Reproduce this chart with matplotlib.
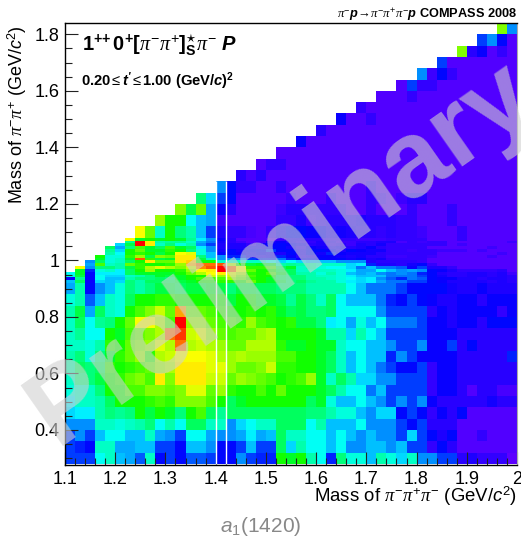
import numpy as np
import matplotlib
matplotlib.use('Agg')
import matplotlib.pyplot as plt
from matplotlib.colors import LinearSegmentedColormap
from matplotlib.ticker import MultipleLocator

plt.rcParams['font.family'] = 'Liberation Sans'
plt.rcParams['mathtext.fontset'] = 'custom'
plt.rcParams['mathtext.rm'] = 'Liberation Sans'
plt.rcParams['mathtext.it'] = 'Liberation Serif:italic'
plt.rcParams['mathtext.sf'] = 'Liberation Sans:italic'
plt.rcParams['mathtext.bf'] = 'Liberation Sans:bold'
plt.rcParams['mathtext.bfit'] = 'Liberation Sans:italic:bold'

# 0 means empty bin (white), the rest is the colour level
# coarse rows 0.28 - 0.92, bottom row first
low_rows = [
    [25,25,25,40,45,35,33,27,45,20,25,20,27,27,24,20,20,30,24,22,22,60,58,60,47,40,23,50,43,42,35,47,42,36,44,30,30,25,25,12,14,10,10,10,3],
    [25,22,20,45,45,32,32,34,34,25,24,20,34,34,30,20,20,25,35,24,24,52,36,46,41,41,35,41,30,30,35,35,30,34,24,24,10,20,12,4,4,4,4,4,4],
    [25,30,25,35,40,40,35,35,44,33,30,25,40,40,32,30,30,32,38,33,35,52,45,44,41,41,35,41,35,30,35,30,30,24,36,24,20,14,20,4,4,10,4,4,4],
    [30,30,30,44,44,42,44,46,50,40,46,40,52,52,44,45,30,36,40,45,45,52,52,52,40,46,35,35,35,41,30,30,30,24,20,24,12,12,12,4,4,4,4,4,4],
    [36,38,38,46,50,48,50,60,55,60,56,50,60,65,52,48,52,52,52,52,52,52,52,52,50,50,46,42,42,35,30,36,36,20,24,20,10,18,12,20,4,4,4,4,4],
    [38,44,44,46,52,60,60,60,62,65,62,68,68,68,65,60,52,56,60,60,60,60,60,60,52,56,42,35,35,41,34,30,24,30,24,30,18,12,12,12,12,12,16,12,12],
    [42,45,44,50,60,60,65,65,68,68,66,68,76,76,66,70,62,60,60,64,60,66,60,60,60,56,52,46,41,41,28,35,24,24,24,24,10,18,18,12,5,12,12,6,6],
    [44,50,50,55,60,62,66,68,64,80,68,80,80,80,74,74,66,70,68,66,64,60,62,65,70,56,45,52,46,36,36,30,30,24,24,24,10,18,18,12,12,12,12,12,12],
    [46,52,50,52,62,60,62,64,66,70,72,80,80,80,76,76,70,66,66,68,74,62,62,60,60,56,52,45,35,40,34,29,24,20,20,24,10,18,18,12,12,12,12,12,12],
    [46,50,42,50,58,62,66,70,62,72,74,78,78,78,76,72,70,72,70,70,70,64,64,60,60,56,52,44,35,40,34,34,22,30,25,18,18,18,18,12,12,12,12,12,22],
    [45,44,42,46,62,60,66,68,70,76,72,90,72,74,72,70,66,66,72,72,72,62,56,56,60,56,56,45,40,40,34,34,30,25,25,30,18,18,25,12,20,12,12,12,12],
    [44,48,40,40,60,56,64,66,68,72,90,95,74,76,70,66,64,66,66,70,72,60,60,60,60,56,46,46,36,46,40,34,24,24,24,24,18,18,18,12,12,12,12,12,12],
    [44,52,40,48,50,60,66,78,78,72,64,98,70,70,66,64,64,62,70,64,62,60,62,55,55,50,38,40,33,42,34,40,28,28,28,25,18,18,14,18,18,12,20,20,20],
    [46,55,32,52,45,42,60,64,68,74,66,86,66,66,64,62,60,60,62,60,62,58,52,55,50,50,52,40,40,40,40,30,24,24,24,24,12,18,14,18,18,18,18,10,18],
    [42,46,26,35,44,42,52,60,60,62,62,60,60,60,60,60,55,60,60,58,56,54,48,55,50,44,52,41,34,34,34,28,22,20,24,20,18,14,14,18,18,12,18,18,18],
    [33,46,20,30,34,42,50,46,50,55,55,52,55,55,58,55,50,55,55,52,52,50,50,50,46,46,46,46,41,34,28,28,28,25,20,20,20,20,16,14,14,18,14,14,14],
]

# fine rows 0.92 - 1.08 around the f0(980)
fine_rows = [
    [34,52,18,36,34,36,50,46,52,52,52,54,56,60,60,62,62,60,66,60,58,54,50,52,48,46,46,42,38,36,38,32,28,28,24,24,20,18,14,14,14,14,12,14,12],
    [18,48,20,40,34,34,46,50,50,52,50,58,60,64,64,64,70,66,62,60,56,52,50,50,46,46,44,42,40,36,38,30,26,22,28,26,20,18,18,14,14,12,14,14,12],
    [42,55,20,40,36,36,45,46,50,56,55,56,60,60,74,70,74,68,64,60,60,52,50,50,46,44,44,42,38,34,34,34,28,28,28,24,20,16,12,12,14,14,12,14,12],
    [40,56,20,38,38,38,52,58,58,58,58,60,66,72,78,80,76,72,62,60,64,56,52,46,46,42,46,42,34,32,34,30,28,30,28,22,20,14,12,12,14,14,12,14,8],
    [0,58,22,42,44,38,52,60,70,60,60,62,70,78,80,100,90,78,66,60,60,54,52,44,44,44,44,42,38,32,32,40,34,30,32,30,20,18,14,10,10,10,10,12,4],
    [0,78,30,50,50,46,54,62,72,76,72,68,74,88,92,100,90,78,62,62,64,52,56,44,46,42,40,40,36,28,34,28,28,26,18,24,14,14,10,4,4,4,4,4,4],
    [0,0,32,64,44,46,66,62,60,60,62,70,84,90,90,92,72,60,55,56,56,46,48,46,46,44,44,44,36,38,22,14,14,12,16,20,10,4,4,4,4,4,4,4,4],
    [0,0,30,52,42,44,52,60,80,66,66,80,82,60,60,44,45,44,44,44,40,36,40,36,34,34,34,30,30,30,14,12,12,12,12,10,4,4,4,4,4,4,4,4,4],
    [0,0,0,58,42,44,58,92,62,54,58,80,80,55,45,30,30,30,24,22,22,28,22,18,20,20,18,20,16,20,14,16,10,10,10,10,4,4,4,4,4,4,4,4,4],
    [0,0,0,60,42,42,62,70,54,68,66,80,80,50,34,30,22,22,16,14,16,22,18,12,14,18,18,16,14,16,12,12,8,8,10,10,8,4,4,4,4,4,8,4,4],
    [0,0,0,0,46,40,60,62,60,54,60,78,76,42,34,20,20,18,16,18,16,14,20,14,20,16,22,18,16,16,16,12,10,10,10,10,10,4,4,4,4,4,4,8,4],
    [0,0,0,0,48,36,60,66,58,56,62,60,50,42,30,16,20,16,18,20,24,20,20,14,20,20,18,14,20,18,16,16,10,10,8,10,10,8,8,8,4,8,4,4,4],
    [0,0,0,0,52,33,50,65,58,52,64,56,52,38,30,14,14,14,16,16,20,20,16,12,18,16,14,16,12,14,18,12,10,10,10,10,4,4,4,4,4,4,8,4,4],
    [0,0,0,0,0,36,55,98,80,44,50,42,46,30,24,14,14,14,10,16,18,20,18,16,12,14,10,12,8,14,12,16,10,10,10,10,10,10,4,8,4,4,4,4,4],
    [0,0,0,0,0,0,48,98,80,46,48,48,44,32,28,16,12,8,4,6,16,18,14,12,10,14,12,8,8,12,12,14,14,6,10,8,10,10,4,4,4,4,4,4,8],
    [0,0,0,0,0,0,78,58,60,58,60,56,48,38,30,18,12,4,4,4,4,8,14,14,12,12,10,10,10,8,8,8,10,10,10,10,4,4,4,10,4,4,4,4,4],
]

# coarse rows 1.08 - 1.84
high_rows = [
    [0,0,0,0,0,0,0,78,66,44,60,50,47,35,25,15,10,10,6,4,10,16,20,20,18,18,14,16,14,12,12,10,12,10,10,8,4,4,4,10,4,4,4,4,4],
    [0,0,0,0,0,0,0,0,0,70,60,60,40,35,32,8,4,4,4,4,4,10,10,14,8,10,12,12,12,14,12,12,12,10,10,4,4,4,10,4,4,4,4,4,4],
    [0,0,0,0,0,0,0,0,0,0,0,68,55,66,33,18,12,4,4,4,4,8,12,12,10,10,10,10,4,4,10,4,4,4,10,4,4,4,10,4,4,4,4,4,4],
    [0,0,0,0,0,0,0,0,0,0,0,0,0,50,37,24,20,4,4,4,4,4,8,4,4,4,10,4,4,4,10,8,4,8,12,12,4,4,4,4,4,4,4,4,4],
    [0,0,0,0,0,0,0,0,0,0,0,0,0,0,0,30,20,10,10,4,4,10,4,4,4,4,4,4,4,4,10,4,4,4,4,4,4,4,4,4,4,4,4,4,4],
    [0,0,0,0,0,0,0,0,0,0,0,0,0,0,0,0,0,12,6,12,4,4,4,4,4,4,4,4,4,4,4,4,4,4,4,4,4,4,4,4,4,4,4,4,4],
    [0,0,0,0,0,0,0,0,0,0,0,0,0,0,0,0,0,0,0,5,10,10,4,4,4,4,4,4,4,4,4,4,4,4,4,4,4,4,4,4,4,4,4,4,4],
    [0,0,0,0,0,0,0,0,0,0,0,0,0,0,0,0,0,0,0,0,0,4,4,4,4,4,4,4,4,4,4,4,4,4,4,4,4,4,4,4,4,4,4,4,4],
    [0,0,0,0,0,0,0,0,0,0,0,0,0,0,0,0,0,0,0,0,0,0,0,18,4,4,4,4,4,4,4,4,4,4,4,4,4,4,4,4,4,4,4,4,4],
    [0,0,0,0,0,0,0,0,0,0,0,0,0,0,0,0,0,0,0,0,0,0,0,0,0,12,4,4,4,4,4,4,4,4,4,4,4,4,4,4,4,4,4,4,4],
    [0,0,0,0,0,0,0,0,0,0,0,0,0,0,0,0,0,0,0,0,0,0,0,0,0,0,0,18,4,4,10,4,4,4,4,4,4,4,4,4,4,4,4,4,4],
    [0,0,0,0,0,0,0,0,0,0,0,0,0,0,0,0,0,0,0,0,0,0,0,0,0,0,0,0,0,10,4,4,4,4,4,4,4,4,4,4,4,4,4,4,4],
    [0,0,0,0,0,0,0,0,0,0,0,0,0,0,0,0,0,0,0,0,0,0,0,0,0,0,0,0,0,0,0,4,4,4,10,4,4,4,4,4,4,4,4,4,4],
    [0,0,0,0,0,0,0,0,0,0,0,0,0,0,0,0,0,0,0,0,0,0,0,0,0,0,0,0,0,0,0,0,0,4,24,10,10,4,4,4,4,4,4,4,4],
    [0,0,0,0,0,0,0,0,0,0,0,0,0,0,0,0,0,0,0,0,0,0,0,0,0,0,0,0,0,0,0,0,0,0,0,30,8,20,10,4,4,4,4,4,4],
    [0,0,0,0,0,0,0,0,0,0,0,0,0,0,0,0,0,0,0,0,0,0,0,0,0,0,0,0,0,0,0,0,0,0,0,0,0,24,4,4,4,4,4,4,4],
    [0,0,0,0,0,0,0,0,0,0,0,0,0,0,0,0,0,0,0,0,0,0,0,0,0,0,0,0,0,0,0,0,0,0,0,0,0,0,0,68,12,18,4,10,4],
    [0,0,0,0,0,0,0,0,0,0,0,0,0,0,0,0,0,0,0,0,0,0,0,0,0,0,0,0,0,0,0,0,0,0,0,0,0,0,0,0,0,25,30,20,4],
    [0,0,0,0,0,0,0,0,0,0,0,0,0,0,0,0,0,0,0,0,0,0,0,0,0,0,0,0,0,0,0,0,0,0,0,0,0,0,0,0,0,0,0,68,30],
]

# ROOT style rainbow palette
rainbow = ['#6600ff', '#0000ff', '#0088ff', '#00ffff', '#00ff88', '#00ff00', '#88ff00', '#ffff00', '#ff8800', '#ff0000']
levels = [0, 20, 30, 40, 50, 60, 70, 80, 90, 100]
cmap = LinearSegmentedColormap.from_list('root_rainbow', [(l / 100, c) for l, c in zip(levels, rainbow)], N=50)

x_edges = np.linspace(1.1, 2.0, 46)
y_edges = np.concatenate([np.linspace(0.28, 0.92, 17), np.linspace(0.92, 1.08, 17)[1:], np.linspace(1.08, 1.84, 20)[1:]])
z = np.ma.masked_equal(np.array(low_rows + fine_rows + high_rows), 0)

fig = plt.figure(figsize=(5.21, 5.38), dpi=100)
ax = fig.add_axes([65 / 521, 1 - 465 / 538, 452 / 521, 442 / 538])
ax.pcolormesh(x_edges, y_edges, z, cmap=cmap, vmin=0, vmax=100)

# thin white gaps around the 1.40-1.42 column
ax.vlines([1.40, 1.42], 0.28, 1.28, color='white', lw=1)

ax.set_xlim(1.1, 2.0)
ax.set_ylim(0.276, 1.84)
ax.xaxis.set_minor_locator(MultipleLocator(0.02))
ax.yaxis.set_minor_locator(MultipleLocator(0.05))
ax.set_yticks([0.4, 0.6, 0.8, 1.0, 1.2, 1.4, 1.6, 1.8])
ax.set_yticklabels(['0.4', '0.6', '0.8', '1', '1.2', '1.4', '1.6', '1.8'])
ax.set_xticks([1.1, 1.2, 1.3, 1.4, 1.5, 1.6, 1.7, 1.8, 1.9, 2.0])
ax.set_xticklabels(['1.1', '1.2', '1.3', '1.4', '1.5', '1.6', '1.7', '1.8', '1.9', '2'])
ax.tick_params(which='major', direction='in', length=9.5, width=0.8, labelsize=13, pad=4, color='#222222')
ax.tick_params(which='minor', direction='in', length=5, width=0.8, color='#222222')
ax.spines['right'].set_color('#aaaaaa')
for s in ['left', 'bottom', 'top']:
    ax.spines[s].set_linewidth(1)

fig.text(17 / 521, 1 - 25 / 538, r'Mass of $\pi^{-}\pi^{+}$ (GeV/$\mathsf{c}^{2}$)', rotation=90, fontsize=13, ha='center', va='top')
fig.text(517 / 521, 1 - 502 / 538, r'Mass of $\pi^{-}\pi^{+}\pi^{-}$ (GeV/$\mathsf{c}^{2}$)', fontsize=13.4, ha='right', va='baseline')
fig.text(261 / 521, 1 - 527 / 538, r'$\mathsf{a}_{1}$(1420)', fontsize=15, color='#888888', ha='center', va='center')

fig.text(82 / 521, 1 - 51 / 538, r'$\mathbf{1^{+\!+}0^{+}[}\pi^{-}\pi^{+}\mathbf{]}^{\star}_{\mathbf{S}}\pi^{-}$ $\mathbfit{P}$', fontsize=14.5, ha='left', va='baseline', fontweight='bold')
fig.text(81 / 521, 1 - 86 / 538, r"0.20$\leq$$\mathbfit{t'}$$\leq$1.00 (GeV/$\mathbfit{c}$)$^{\mathbf{2}}$", fontsize=10.6, ha='left', va='baseline', fontweight='bold')
fig.text(517 / 521, 1 - 18 / 538, r'$\pi^{-}\mathbfit{p}\!\rightarrow\!\pi^{-}\pi^{+}\pi^{-}\mathbfit{p}$ COMPASS 2008', fontsize=9.2, ha='right', va='baseline', fontweight='bold')

fig.text(282 / 521, 1 - 254 / 538, 'Preliminary', fontsize=78, fontweight='bold', color='#d0d0d0', alpha=0.6,
         rotation=35, rotation_mode='anchor', ha='center', va='center')

fig.savefig('out.png', dpi=100)
